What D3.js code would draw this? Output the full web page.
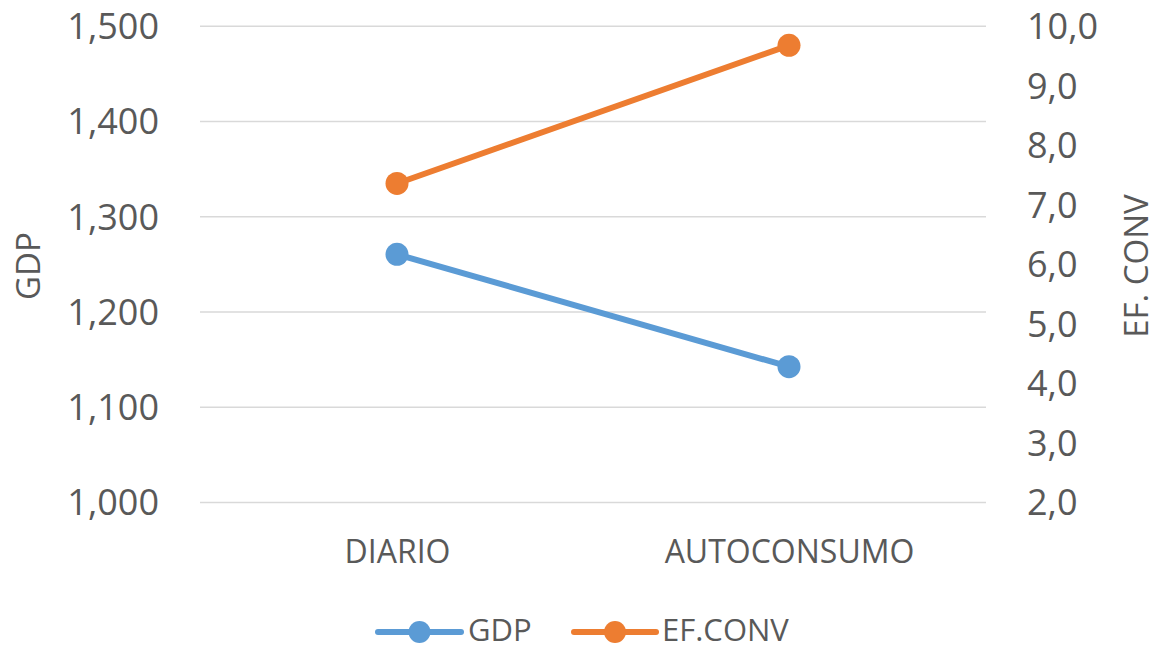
<!DOCTYPE html>
<html>
<head>
<meta charset="utf-8">
<script src="https://cdn.jsdelivr.net/npm/d3@7"></script>
<style>
  body { margin: 0; background: #fff; }
  text { font-family: "Open Sans", sans-serif; fill: #595959; }
</style>
</head>
<body>
<script>
// Data
const categories = ["DIARIO", "AUTOCONSUMO"];
const gdpValues = [1260, 1142];
const efConvValues = [7.35, 9.67];
const leftTicks = [1000, 1100, 1200, 1300, 1400, 1500];
const rightTicks = [2, 3, 4, 5, 6, 7, 8, 9, 10];

const blue = "#5b9bd5", orange = "#ed7d31";

const width = 1158, height = 650;
const plot = {left: 200, right: 986, top: 25.7, bottom: 502};

const svg = d3.select("body").append("svg")
  .attr("width", width)
  .attr("height", height);

const x = d3.scalePoint()
  .domain(categories)
  .range([plot.left + 1, plot.right - 1])
  .padding(0.5);

const yLeft = d3.scaleLinear().domain([1000, 1500]).range([plot.bottom, plot.top]);
const yRight = d3.scaleLinear().domain([2, 10]).range([plot.bottom, plot.top]);

// Left axis + gridlines
const leftAxis = svg.append("g")
  .attr("transform", `translate(${plot.left},0)`)
  .call(d3.axisLeft(yLeft)
    .tickValues(leftTicks)
    .tickFormat(d3.format(","))
    .tickSizeInner(-(plot.right - plot.left))
    .tickSizeOuter(0)
    .tickPadding(41));
leftAxis.select(".domain").remove();
leftAxis.selectAll(".tick line").attr("stroke", "#d9d9d9").attr("stroke-width", 1.5);
leftAxis.selectAll(".tick text")
  .attr("font-size", 36).attr("font-family", "Open Sans").attr("fill", "#595959")
  .attr("dy", "0.36em");

// Right axis (comma decimal)
const esFormat = d3.formatLocale({decimal: ",", thousands: ".", grouping: [3], currency: ["", ""]}).format(".1f");
const rightAxis = svg.append("g")
  .attr("transform", `translate(${plot.right},0)`)
  .call(d3.axisRight(yRight)
    .tickValues(rightTicks)
    .tickFormat(esFormat)
    .tickSize(0)
    .tickPadding(41));
rightAxis.select(".domain").remove();
rightAxis.selectAll(".tick text")
  .attr("font-size", 36).attr("font-family", "Open Sans").attr("fill", "#595959")
  .attr("dy", "0.36em");

// Category axis
const xAxis = svg.append("g")
  .attr("transform", `translate(0,${plot.bottom})`)
  .call(d3.axisBottom(x).tickSize(0).tickPadding(0));
xAxis.select(".domain").remove();
xAxis.selectAll(".tick text")
  .attr("font-size", 32).attr("font-family", "Open Sans").attr("fill", "#595959")
  .attr("dy", 0).attr("y", 61);

// Axis titles
svg.append("text")
  .attr("transform", `translate(40,266) rotate(-90)`)
  .attr("text-anchor", "middle")
  .attr("font-size", 33)
  .text("GDP");

svg.append("text")
  .attr("transform", `translate(1148,266) rotate(-90)`)
  .attr("text-anchor", "middle")
  .attr("font-size", 33)
  .text("EF. CONV");

// Series
const series = [
  {name: "GDP", values: gdpValues, y: yLeft, color: blue},
  {name: "EF.CONV", values: efConvValues, y: yRight, color: orange}
];

series.forEach(s => {
  const pts = categories.map((c, i) => [x(c), s.y(s.values[i])]);
  svg.append("path")
    .attr("d", d3.line()(pts))
    .attr("fill", "none")
    .attr("stroke", s.color)
    .attr("stroke-width", 6)
    .attr("stroke-linecap", "round");
  svg.selectAll(null)
    .data(pts)
    .join("circle")
    .attr("cx", d => d[0])
    .attr("cy", d => d[1])
    .attr("r", 11.5)
    .attr("fill", s.color);
});

// Legend
const legendItems = [
  {name: "GDP", color: blue, x0: 378, x1: 461, tx: 468},
  {name: "EF.CONV", color: orange, x0: 574, x1: 656, tx: 662}
];
const legendY = 632;
const lg = svg.append("g");
legendItems.forEach(d => {
  lg.append("line")
    .attr("x1", d.x0).attr("x2", d.x1)
    .attr("y1", legendY).attr("y2", legendY)
    .attr("stroke", d.color)
    .attr("stroke-width", 6)
    .attr("stroke-linecap", "round");
  lg.append("circle")
    .attr("cx", (d.x0 + d.x1) / 2)
    .attr("cy", legendY)
    .attr("r", 11)
    .attr("fill", d.color);
  lg.append("text")
    .attr("x", d.tx)
    .attr("y", 641)
    .attr("font-size", 31)
    .text(d.name);
});
</script>
</body>
</html>
